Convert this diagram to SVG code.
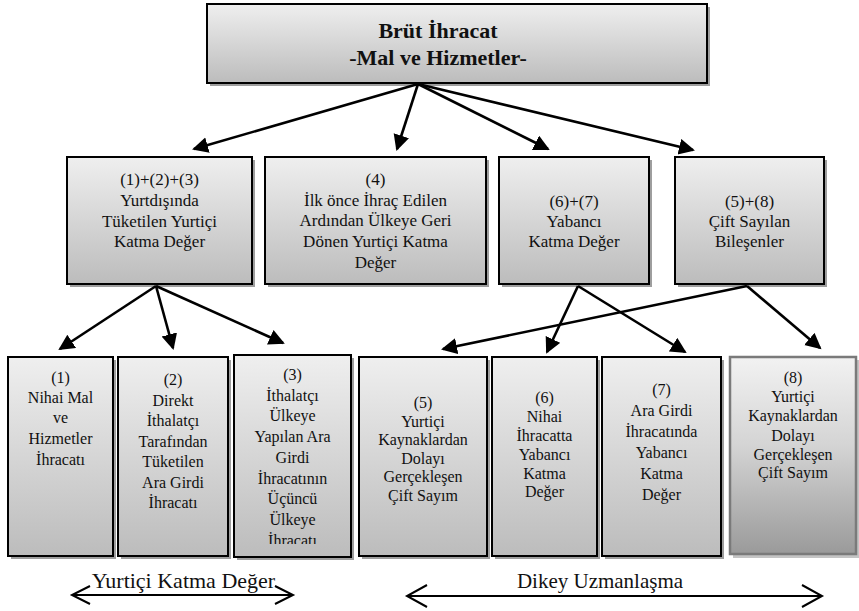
<svg xmlns="http://www.w3.org/2000/svg" width="859" height="611" viewBox="0 0 859 611">
<defs>
<linearGradient id="g" x1="0" y1="0" x2="0" y2="1">
<stop offset="0" stop-color="#efefef"/>
<stop offset="1" stop-color="#bcbcbc"/>
</linearGradient>
<linearGradient id="g8" x1="0" y1="0" x2="0" y2="1">
<stop offset="0" stop-color="#f2f2f2"/>
<stop offset="0.45" stop-color="#d4d4d4"/>
<stop offset="1" stop-color="#9a9a9a"/>
</linearGradient>
<marker id="ah" markerUnits="userSpaceOnUse" markerWidth="17" markerHeight="17" refX="14" refY="8" orient="auto" viewBox="0 0 17 17">
<path d="M0,0 L16,8 L0,16 z" fill="#000"/>
</marker>
<clipPath id="c3"><rect x="234" y="355" width="117" height="189"/></clipPath>
</defs>
<style>
.box{fill:url(#g);stroke:#000;stroke-width:2}
.sh{fill:#9e9e9e}
.t{font-family:"Liberation Serif","Times New Roman",serif;fill:#111;text-anchor:middle}
.tt{font-size:22px;font-weight:bold}
.tm{font-size:17px}
.tb{font-size:16px}
.tl{font-size:21px}
.con line{stroke:#000;stroke-width:2.6;marker-end:url(#ah)}
.dbl{stroke:#000;stroke-width:2;fill:none}
</style>

<g id="top">
<rect class="sh" x="210" y="7" width="500" height="79"/>
<rect class="box" x="207" y="4" width="500" height="79"/>
<text class="t tt" x="438" y="38">Brüt İhracat</text>
<text class="t tt" x="438" y="65">-Mal ve Hizmetler-</text>
</g>

<g id="m1">
<rect class="sh" x="70" y="160" width="185" height="127"/>
<rect class="box" x="67" y="157" width="185" height="127"/>
<text class="t tm" x="159.5" y="185">(1)+(2)+(3)</text>
<text class="t tm" x="159.5" y="206">Yurtdışında</text>
<text class="t tm" x="159.5" y="227">Tüketilen Yurtiçi</text>
<text class="t tm" x="159.5" y="247">Katma Değer</text>
</g>
<g id="m2">
<rect class="sh" x="268" y="160" width="221" height="127"/>
<rect class="box" x="265" y="157" width="221" height="127"/>
<text class="t tm" x="375.5" y="185">(4)</text>
<text class="t tm" x="375.5" y="206">İlk önce İhraç Edilen</text>
<text class="t tm" x="375.5" y="226">Ardından Ülkeye Geri</text>
<text class="t tm" x="375.5" y="247">Dönen Yurtiçi Katma</text>
<text class="t tm" x="375.5" y="268">Değer</text>
</g>
<g id="m3">
<rect class="sh" x="502" y="160" width="150" height="127"/>
<rect class="box" x="499" y="157" width="150" height="127"/>
<text class="t tm" x="574" y="207">(6)+(7)</text>
<text class="t tm" x="574" y="227">Yabancı</text>
<text class="t tm" x="574" y="247">Katma Değer</text>
</g>
<g id="m4">
<rect class="sh" x="678" y="160" width="149" height="127"/>
<rect class="box" x="675" y="157" width="149" height="127"/>
<text class="t tm" x="749.5" y="207">(5)+(8)</text>
<text class="t tm" x="749.5" y="227">Çift Sayılan</text>
<text class="t tm" x="749.5" y="247">Bileşenler</text>
</g>

<g id="b1">
<rect class="sh" x="11" y="360" width="105" height="199"/>
<rect class="box" x="8" y="357" width="105" height="199"/>
<text class="t tb" x="60.5" y="383">(1)</text>
<text class="t tb" x="60.5" y="403">Nihai Mal</text>
<text class="t tb" x="60.5" y="423">ve</text>
<text class="t tb" x="60.5" y="444">Hizmetler</text>
<text class="t tb" x="60.5" y="465">İhracatı</text>
</g>
<g id="b2">
<rect class="sh" x="121" y="360" width="110" height="199"/>
<rect class="box" x="118" y="357" width="110" height="199"/>
<text class="t tb" x="173" y="385">(2)</text>
<text class="t tb" x="173" y="405.5">Direkt</text>
<text class="t tb" x="173" y="426">İthalatçı</text>
<text class="t tb" x="173" y="446.5">Tarafından</text>
<text class="t tb" x="173" y="467">Tüketilen</text>
<text class="t tb" x="173" y="487.5">Ara Girdi</text>
<text class="t tb" x="173" y="508">İhracatı</text>
</g>
<g id="b3">
<rect class="sh" x="237" y="358" width="117" height="202"/>
<rect class="box" x="234" y="355" width="117" height="202"/>
<g clip-path="url(#c3)">
<text class="t tb" x="292.5" y="380">(3)</text>
<text class="t tb" x="292.5" y="400.7">İthalatçı</text>
<text class="t tb" x="292.5" y="421.4">Ülkeye</text>
<text class="t tb" x="292.5" y="442">Yapılan Ara</text>
<text class="t tb" x="292.5" y="462.8">Girdi</text>
<text class="t tb" x="292.5" y="483.5">İhracatının</text>
<text class="t tb" x="292.5" y="504.2">Üçüncü</text>
<text class="t tb" x="292.5" y="525">Ülkeye</text>
<text class="t tb" x="292.5" y="546">İhracatı</text>
</g>
</g>
<g id="b5">
<rect class="sh" x="362" y="360" width="128" height="199"/>
<rect class="box" x="359" y="357" width="128" height="199"/>
<text class="t tb" x="423" y="408">(5)</text>
<text class="t tb" x="423" y="426.5">Yurtiçi</text>
<text class="t tb" x="423" y="445">Kaynaklardan</text>
<text class="t tb" x="423" y="463.5">Dolayı</text>
<text class="t tb" x="423" y="482">Gerçekleşen</text>
<text class="t tb" x="423" y="500.5">Çift Sayım</text>
</g>
<g id="b6">
<rect class="sh" x="495" y="360" width="105" height="199"/>
<rect class="box" x="492" y="357" width="105" height="199"/>
<text class="t tb" x="544.5" y="403">(6)</text>
<text class="t tb" x="544.5" y="422">Nihai</text>
<text class="t tb" x="544.5" y="441">İhracatta</text>
<text class="t tb" x="544.5" y="460">Yabancı</text>
<text class="t tb" x="544.5" y="478.5">Katma</text>
<text class="t tb" x="544.5" y="497">Değer</text>
</g>
<g id="b7">
<rect class="sh" x="605" y="360" width="119" height="199"/>
<rect class="box" x="602" y="357" width="119" height="199"/>
<text class="t tb" x="661.5" y="395">(7)</text>
<text class="t tb" x="661.5" y="416">Ara Girdi</text>
<text class="t tb" x="661.5" y="437">İhracatında</text>
<text class="t tb" x="661.5" y="458">Yabancı</text>
<text class="t tb" x="661.5" y="479">Katma</text>
<text class="t tb" x="661.5" y="500">Değer</text>
</g>
<g id="b8">
<rect x="733" y="360" width="126" height="198" fill="#c4c4c4"/>
<rect x="730" y="357" width="126" height="197" fill="url(#g8)" stroke="#7a7a7a" stroke-width="2.5"/>
<text class="t tb" x="793" y="383">(8)</text>
<text class="t tb" x="793" y="402">Yurtiçi</text>
<text class="t tb" x="793" y="421">Kaynaklardan</text>
<text class="t tb" x="793" y="441">Dolayı</text>
<text class="t tb" x="793" y="460">Gerçekleşen</text>
<text class="t tb" x="793" y="478">Çift Sayım</text>
</g>

<g id="connectors" class="con">
<line x1="418" y1="84" x2="194" y2="149"/>
<line x1="418" y1="84" x2="397" y2="149"/>
<line x1="418" y1="84" x2="548" y2="149"/>
<line x1="418" y1="84" x2="693" y2="150"/>
<line x1="156" y1="286" x2="60" y2="349"/>
<line x1="156" y1="286" x2="173" y2="348"/>
<line x1="156" y1="286" x2="283" y2="343"/>
<line x1="578" y1="286" x2="547" y2="352"/>
<line x1="578" y1="286" x2="685" y2="352"/>
<line x1="747" y1="286" x2="443" y2="349"/>
<line x1="747" y1="286" x2="820" y2="348"/>
</g>

<g id="label-yurtici">
<text class="t tl" x="183.5" y="588" style="font-size:22px">Yurtiçi Katma Değer</text>
<path class="dbl" d="M72,595 H293 M90,586 L72,595 L90,604 M275,586 L293,595 L275,604"/>
</g>
<g id="label-dikey">
<text class="t tl" x="600" y="588">Dikey Uzmanlaşma</text>
<path class="dbl" d="M407,596 H822 M427,585 L407,596 L427,607 M802,585 L822,596 L802,607"/>
</g>
</svg>
